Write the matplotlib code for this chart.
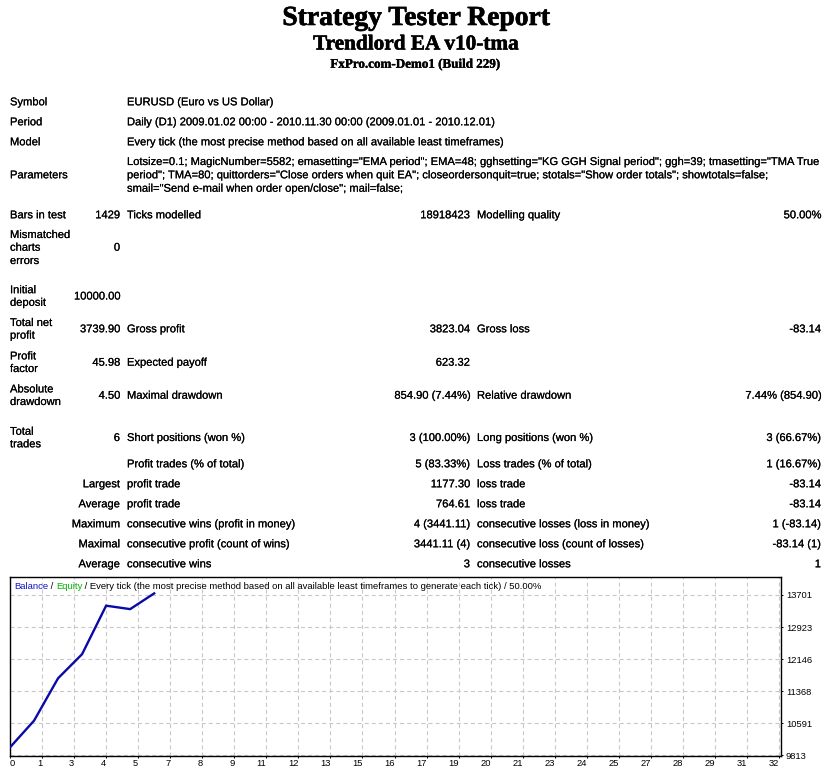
import matplotlib
matplotlib.use("Agg")
import matplotlib.pyplot as plt
import matplotlib.patheffects as pe
from matplotlib.font_manager import FontProperties, fontManager
from matplotlib.textpath import TextPath
import numpy as np

# ---------------- data ----------------
title_main = "Strategy Tester Report"
title_ea = "Trendlord EA v10-tma"
title_server = "FxPro.com-Demo1 (Build 229)"

symbol_text = "EURUSD (Euro vs US Dollar)"
period_text = "Daily (D1) 2009.01.02 00:00 - 2010.11.30 00:00 (2009.01.01 - 2010.12.01)"
model_text = "Every tick (the most precise method based on all available least timeframes)"
parameter_lines = [
    'Lotsize=0.1; MagicNumber=5582; emasetting="EMA period"; EMA=48; gghsetting="KG GGH Signal period"; ggh=39; tmasetting="TMA True',
    'period"; TMA=80; quittorders="Close orders when quit EA"; closeordersonquit=true; stotals="Show order totals"; showtotals=false;',
    'smail="Send e-mail when order open/close"; mail=false;',
]

# wrapped two-line labels with their value rows
stat_labels = [["Initial", "deposit"], ["Total net", "profit"], ["Profit", "factor"],
               ["Absolute", "drawdown"], ["Total", "trades"]]
stat_values = ["10000.00", "3739.90", "45.98", "4.50", "6"]
stat_mid_names = ["", "Gross profit", "Expected payoff", "Maximal drawdown", "Short positions (won %)"]
stat_mid_values = ["", "3823.04", "623.32", "854.90 (7.44%)", "3 (100.00%)"]
stat_right_names = ["", "Gross loss", "", "Relative drawdown", "Long positions (won %)"]
stat_right_values = ["", "-83.14", "", "7.44% (854.90)", "3 (66.67%)"]

trade_prefix = ["", "Largest", "Average", "Maximum", "Maximal", "Average"]
trade_mid_names = ["Profit trades (% of total)", "profit trade", "profit trade",
                   "consecutive wins (profit in money)", "consecutive profit (count of wins)",
                   "consecutive wins"]
trade_mid_values = ["5 (83.33%)", "1177.30", "764.61", "4 (3441.11)", "3441.11 (4)", "3"]
trade_right_names = ["Loss trades (% of total)", "loss trade", "loss trade",
                     "consecutive losses (loss in money)", "consecutive loss (count of losses)",
                     "consecutive losses"]
trade_right_values = ["1 (16.67%)", "-83.14", "-83.14", "1 (-83.14)", "-83.14 (1)", "1"]

chart_caption = " / Every tick (the most precise method based on all available least timeframes to generate each tick) / 50.00%"

# balance curve
trade_index = [0, 1, 2, 3, 4, 5, 6]
balance = [10000.00, 10648.00, 11678.00, 12263.81, 13441.11, 13357.97, 13739.90]
y_tick_values = [9813, 10591, 11368, 12146, 12923, 13701]
x_tick_labels = ["0", "1", "3", "4", "5", "7", "8", "9", "11", "12", "13", "15", "16",
                 "17", "19", "20", "21", "23", "24", "25", "27", "28", "29", "31", "32"]

# ---------------- setup ----------------
W, H, DPI = 835, 776, 100
plt.rcParams['lines.scale_dashes'] = False
fonts = fontManager.ttflist
names = {f.name for f in fonts}

def pick(cands):
    for c in cands:
        if c in names:
            return c
    return "DejaVu Sans"

def pick_bold(cands):
    for c in cands:
        for f in fonts:
            w = f.weight if isinstance(f.weight, int) else {"bold": 700, "heavy": 800, "black": 900}.get(str(f.weight), 400)
            if f.name == c and w >= 700 and f.style == "normal":
                return c
    return "DejaVu Serif"

SANS = pick(["Liberation Sans", "Arimo", "Noto Sans", "DejaVu Sans"])
SERIF = pick_bold(["Liberation Serif", "Tinos", "Noto Serif", "DejaVu Serif"])

def fit(s, fam, weight, target_px):
    tp = TextPath((0, 0), s, size=100, prop=FontProperties(family=fam, weight=weight))
    w = tp.get_extents().width
    return 100.0 * target_px * 72.0 / DPI / w

fig = plt.figure(figsize=(W / DPI, H / DPI), dpi=DPI)
fig.patch.set_facecolor("white")

def put(x, ybase, s, ha="left", size=8, fam=SANS, weight="normal", color="black", stroke=0.0):
    t = fig.text(x / W, 1 - ybase / H, s, ha=ha, va="baseline", fontsize=size,
                 family=fam, weight=weight, color=color)
    if stroke > 0:
        t.set_path_effects([pe.withStroke(linewidth=stroke, foreground=color)])
    return t

# titles
fs1 = fit(title_main, SERIF, "bold", 266)
fs2 = fit(title_ea, SERIF, "bold", 205)
fs3 = fit(title_server, SERIF, "bold", 169)
put(416, 25, title_main, ha="center", size=fs1, fam=SERIF, weight="bold", stroke=0.45)
put(416, 49.5, title_ea, ha="center", size=fs2, fam=SERIF, weight="bold", stroke=0.4)
put(415, 67.7, title_server, ha="center", size=fs3, fam=SERIF, weight="bold", stroke=0.25)

FS = fit("consecutive wins (profit in money)", SANS, "normal", 167)
OFF = 4.0
X1, X2R, X3, X4R, X5, X6R = 10, 120, 127, 470, 477, 821

def row(yc, *cells):
    for (x, s, ha) in cells:
        if s:
            put(x, yc + OFF, s, ha=ha, size=FS, stroke=0.12)

row(101.3, (X1, "Symbol", "left"), (X3, symbol_text, "left"))
row(121.3, (X1, "Period", "left"), (X3, period_text, "left"))
row(141.3, (X1, "Model", "left"), (X3, model_text, "left"))
row(174.3, (X1, "Parameters", "left"))
for yc, line in zip([161.0, 174.3, 187.7], parameter_lines):
    row(yc, (X3, line, "left"))
row(214.3, (X1, "Bars in test", "left"), (X2R, "1429", "right"), (X3, "Ticks modelled", "left"),
    (X4R, "18918423", "right"), (X5, "Modelling quality", "left"), (X6R, "50.00%", "right"))
for yc, s in zip([234.0, 246.7, 260.0], ["Mismatched", "charts", "errors"]):
    row(yc, (X1, s, "left"))
row(246.7, (X2R, "0", "right"))

stat_centers = [295.5, 328.3, 361.7, 394.7, 437.0]
for i, yc in enumerate(stat_centers):
    row(yc - 6.3, (X1, stat_labels[i][0], "left"))
    row(yc + 6.3, (X1, stat_labels[i][1], "left"))
    row(yc, (X2R, stat_values[i], "right"), (X3, stat_mid_names[i], "left"),
        (X4R, stat_mid_values[i], "right"), (X5, stat_right_names[i], "left"),
        (X6R, stat_right_values[i], "right"))

trade_centers = [463.3, 483.3, 503.3, 523.3, 543.3, 563.3]
for i, yc in enumerate(trade_centers):
    row(yc, (X2R, trade_prefix[i], "right"), (X3, trade_mid_names[i], "left"),
        (X4R, trade_mid_values[i], "right"), (X5, trade_right_names[i], "left"),
        (X6R, trade_right_values[i], "right"))

# ---------------- chart ----------------
ax = fig.add_axes([10 / W, (H - 756) / H, 771 / W, 179 / H])
ax.set_facecolor("white")
ax.plot(trade_index, balance, color="#0A0AA8", lw=1.7, solid_joinstyle="miter", zorder=3)
ax.set_xlim(0, 32.083)
ax.set_ylim(9790, 14138)
xt = np.linspace(0, 32, len(x_tick_labels))
ax.set_xticks(xt)
ax.set_xticklabels(x_tick_labels)
ax.set_yticks(y_tick_values)
ax.set_yticklabels([str(v) for v in y_tick_values])
ax.yaxis.tick_right()
ax.grid(True, color="#C8C8C8", lw=0.8, linestyle=(0, (2.9, 2.2)), zorder=1)
for sp in ax.spines.values():
    sp.set_color("black")
    sp.set_linewidth(1.0)
TFS = fit("13701", SANS, "normal", 25)
ax.tick_params(axis="x", length=1.5, width=0.7, pad=1.0, labelsize=TFS, colors="black")
ax.tick_params(axis="y", length=1.5, width=0.7, pad=2.0, labelsize=TFS, colors="black",
               right=True, left=False, labelright=True, labelleft=False)
labels = ax.get_xticklabels()
for k, lbl in enumerate(labels):
    lbl.set_ha("left" if k == 0 else "right")
    lbl.set_family(SANS)
for lbl in ax.get_yticklabels():
    lbl.set_family(SANS)

# caption inside chart (multi-colour)
CFS = fit("Balance / Equity" + chart_caption, SANS, "normal", 524)
renderer = fig.canvas.get_renderer()
x0 = 14
yb = 585.7 + 3.4
parts = [("Balance", "#1414C8"), (" / ", "black"), ("Equity", "#00B400"), (chart_caption, "black")]
for s, c in parts:
    t = put(x0, yb, s, size=CFS, color=c)
    bb = t.get_window_extent(renderer=renderer)
    x0 = bb.x1

fig.savefig("out.png", dpi=DPI, facecolor="white")
